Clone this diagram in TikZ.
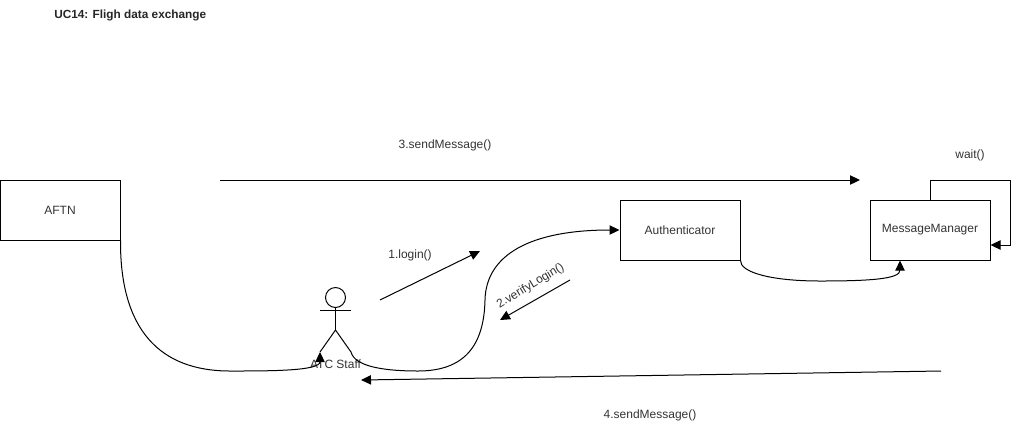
\documentclass[tikz,border=0pt]{standalone}
\usepackage{fontspec}
\setmainfont{Liberation Sans}
\usetikzlibrary{arrows.meta}
\definecolor{txt}{HTML}{333333}
\tikzset{
  boxnode/.style={draw=black,line width=0.75pt,minimum width=90pt,minimum height=45pt,inner sep=0pt,text=txt,font=\fontsize{9}{11}\selectfont},
  lbl/.style={inner sep=0pt,text=txt,font=\fontsize{9}{11}\selectfont},
  conn/.style={draw=black,line width=0.75pt,-{Triangle[length=7.5pt,width=7pt]}},
  stick/.style={draw=black,line width=0.75pt}
}
\begin{document}
\begin{tikzpicture}[x=0.75pt,y=-0.75pt]
\useasboundingbox (0,0) rectangle (1019,430);
\node[lbl,anchor=west,text=black!85,font=\fontsize{8.85}{11}\selectfont\bfseries] (title) at (54,15.5) {UC14: Fligh data exchange};
\node[boxnode] (aftn) at (60,210) {AFTN};
\node[boxnode] (auth) at (680,230) {Authenticator};
\node[boxnode] (mgr) at (930,230) {MessageManager};
% actor
\node[circle,stick,minimum size=15pt,inner sep=0pt] (head) at (335.5,297.5) {};
\coordinate (hip) at (335.5,330);
\coordinate (armL) at (320,310);
\coordinate (armR) at (351,310);
\coordinate (footL) at (320,352);
\coordinate (footR) at (351,352);
\draw[stick] (head.south) -- (hip);
\draw[stick] (armL) -- (armR);
\draw[stick] (footL) -- (hip) -- (footR);
\node[lbl] (actorlabel) at (335.5,364.5) {ATC Staff};
% curved connectors
\draw[conn] (aftn.south east) .. controls (120,330) and (160,371) .. (230,371) .. controls (270,371) and (320,371) .. (footL);
\draw[conn] (footR) .. controls (355,368) and (390,371) .. (418,371) .. controls (465,371) and (484,345) .. (485,300) .. controls (486,255) and (530,230) .. (auth.west);
\draw[conn] (auth.south east) .. controls (740,272) and (770,281) .. (820,281) .. controls (870,281) and (900,279) .. (mgr.south -| 900,260);
\draw[conn] (930,200) |- (1010,180) |- (mgr.east |- 0,245);
% message arrows
\coordinate (a1s) at (380,300);\coordinate (a1e) at (480,251);
\coordinate (a2s) at (570,280);\coordinate (a2e) at (500,320);
\coordinate (a3s) at (220,180);\coordinate (a3e) at (860,180);
\coordinate (a4s) at (941,371);\coordinate (a4e) at (361,380);
\draw[conn] (a1s) -- (a1e);
\draw[conn] (a2s) -- (a2e);
\draw[conn] (a3s) -- (a3e);
\draw[conn] (a4s) -- (a4e);
% labels
\node[lbl] (l1) at (410,255.5) {1.login()};
\node[lbl,rotate=31] (l2) at (530.5,286) {2.verifyLogin()};
\node[lbl] (l3) at (445,145.5) {3.sendMessage()};
\node[lbl] (l4) at (650,415.5) {4.sendMessage()};
\node[lbl] (l5) at (970,155.5) {wait()};
\end{tikzpicture}
\end{document}
